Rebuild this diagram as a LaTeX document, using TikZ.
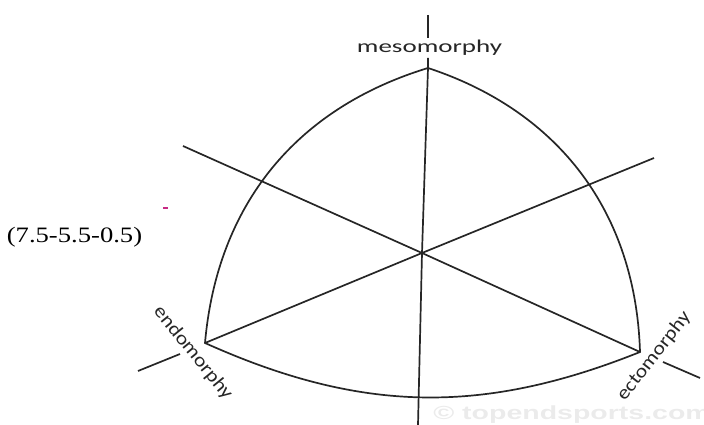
\documentclass[tikz,border=0pt]{standalone}
\usepackage{fontspec}
\setmainfont{Liberation Serif}
\newfontfamily\typefont{Carlito}
\newfontfamily\stampfont{Liberation Sans}
\usepackage{xcolor}
\usepackage{tikz}

\begin{document}
\begin{tikzpicture}[
    x=1pt, y=1pt,
    axis/.style={draw=black!85, line width=1.7pt},
    rim/.style={draw=black!85, line width=1.7pt},
    somato/.style={inner sep=0pt, xscale=1.5, font=\typefont\fontsize{18}{21}\selectfont, text=black!85},
    tilted/.style={inner sep=0pt, font=\typefont\fontsize{19}{22}\selectfont, text=black!85},
    rating/.style={inner sep=0pt, xscale=1.21, font=\fontsize{22}{26}\selectfont},
    stamp/.style={inner sep=0pt, xscale=1.5, font=\stampfont\bfseries\fontsize{19}{22}\selectfont, text=black!8}
]
    \useasboundingbox (0,0) rectangle (704,425);

    % Corners of the chart
    \coordinate (meso) at (428,357);
    \coordinate (endo) at (205,82);
    \coordinate (ecto) at (640,73);
    \coordinate (mid) at (422,172);

    % Ends of the axes
    \coordinate (axTop) at (428,410);
    \coordinate (axTopIn) at (428,387);
    \coordinate (axMesoIn) at (428,367);
    \coordinate (axBottom) at (418,0);
    \coordinate (axEndoOut) at (183,279);
    \coordinate (axEctoIn) at (663,63);
    \coordinate (axEctoOut) at (700,47);
    \coordinate (axEctoUp) at (654,267);
    \coordinate (axEndoIn) at (180,71);
    \coordinate (axEndoLow) at (138,54);
    \coordinate (tickL) at (163,217);
    \coordinate (tickR) at (168,217);

    % Labels
    \node[somato] (mesoLabel) at (429.5,377) {mesomorphy};
    \node[tilted, rotate=-51, xscale=1.15] (endoLabel) at (193,72) {endomorphy};
    \node[tilted, rotate=52, xscale=1.15] (ectoLabel) at (654,69) {ectomorphy};
    \node[rating] (ratingLabel) at (74.5,188) {(7.5-5.5-0.5)};
    \node[stamp, anchor=west] (stampLabel) at (433,10) {\textcopyright\ topendsports.com};

    % Outline
    \draw[rim] (meso) to[bend right=34] (endo) to[bend right=23] (ecto) to[bend right=35] (meso);

    % Axes
    \draw[axis] (axTop) -- (axTopIn);
    \draw[axis] (axMesoIn) -- (meso) -- (mid) -- (axBottom);
    \draw[axis] (axEndoOut) -- (mid) -- (ecto);
    \draw[axis] (axEctoIn) -- (axEctoOut);
    \draw[axis] (endo) -- (mid) -- (axEctoUp);
    \draw[axis] (axEndoLow) -- (axEndoIn);

    % stray mark
    \draw[magenta!60!violet, line width=1.5pt] (tickL) -- (tickR);

\end{tikzpicture}
\end{document}
